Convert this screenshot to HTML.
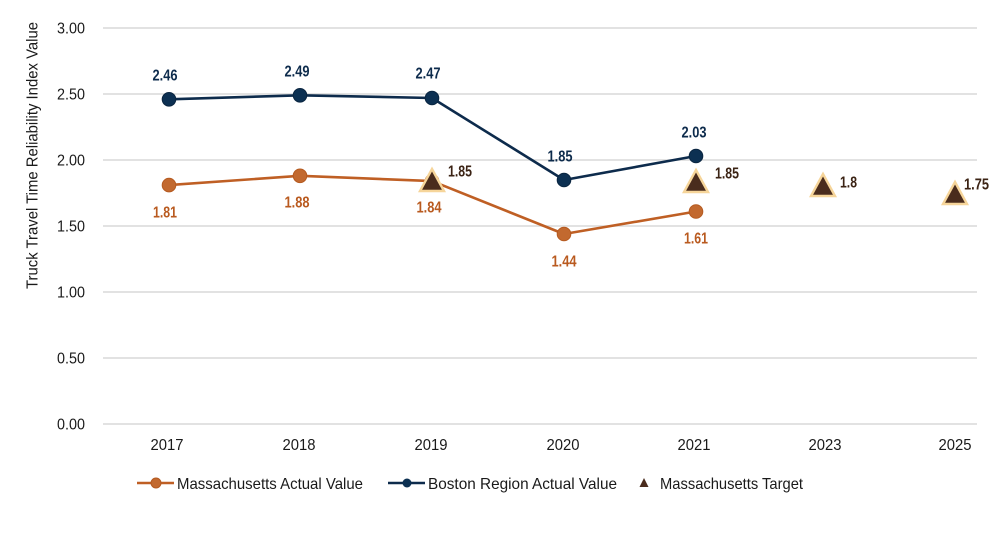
<!DOCTYPE html>
<html>
<head>
<meta charset="utf-8">
<style>
  html, body { margin: 0; padding: 0; background: #ffffff; }
  svg { display: block; }
  text { font-family: "Liberation Sans", sans-serif; }
</style>
</head>
<body>
<svg width="1000" height="535" viewBox="0 0 1000 535" xmlns="http://www.w3.org/2000/svg">
  <rect width="1000" height="535" fill="#ffffff"/>

  <!-- gridlines -->
  <g stroke="#d9d9d9" stroke-width="1.6">
    <line x1="103" y1="28" x2="977" y2="28"/>
    <line x1="103" y1="94" x2="977" y2="94"/>
    <line x1="103" y1="160" x2="977" y2="160"/>
    <line x1="103" y1="226" x2="977" y2="226"/>
    <line x1="103" y1="292" x2="977" y2="292"/>
    <line x1="103" y1="358" x2="977" y2="358"/>
    <line x1="103" y1="424" x2="977" y2="424"/>
  </g>

  <!-- y tick labels -->
  <g font-size="16" fill="#1a1a1a" text-anchor="end">
    <text x="85" y="33.5" textLength="28" lengthAdjust="spacingAndGlyphs">3.00</text>
    <text x="85" y="99.5" textLength="28" lengthAdjust="spacingAndGlyphs">2.50</text>
    <text x="85" y="165.5" textLength="28" lengthAdjust="spacingAndGlyphs">2.00</text>
    <text x="85" y="231.5" textLength="28" lengthAdjust="spacingAndGlyphs">1.50</text>
    <text x="85" y="297.5" textLength="28" lengthAdjust="spacingAndGlyphs">1.00</text>
    <text x="85" y="363.5" textLength="28" lengthAdjust="spacingAndGlyphs">0.50</text>
    <text x="85" y="429.5" textLength="28" lengthAdjust="spacingAndGlyphs">0.00</text>
  </g>

  <!-- y axis title -->
  <text transform="translate(37.5,155.5) rotate(-90)" text-anchor="middle" font-size="16" fill="#1a1a1a" textLength="267" lengthAdjust="spacingAndGlyphs">Truck Travel Time Reliability Index Value</text>

  <!-- x tick labels -->
  <g font-size="16" fill="#1a1a1a" text-anchor="middle">
    <text x="167" y="450" textLength="33" lengthAdjust="spacingAndGlyphs">2017</text>
    <text x="299" y="450" textLength="33" lengthAdjust="spacingAndGlyphs">2018</text>
    <text x="431" y="450" textLength="33" lengthAdjust="spacingAndGlyphs">2019</text>
    <text x="563" y="450" textLength="33" lengthAdjust="spacingAndGlyphs">2020</text>
    <text x="694" y="450" textLength="33" lengthAdjust="spacingAndGlyphs">2021</text>
    <text x="825" y="450" textLength="33" lengthAdjust="spacingAndGlyphs">2023</text>
    <text x="955" y="450" textLength="33" lengthAdjust="spacingAndGlyphs">2025</text>
  </g>

  <!-- Boston series -->
  <polyline points="169,99.3 300,95.3 432,98 564,180 696,156" fill="none" stroke="#0d2b4c" stroke-width="2.6" stroke-linejoin="round"/>
  <g fill="#0c3052" stroke="#0a2540" stroke-width="1">
    <circle cx="169" cy="99.3" r="6.8"/>
    <circle cx="300" cy="95.3" r="6.8"/>
    <circle cx="432" cy="98" r="6.8"/>
    <circle cx="564" cy="180" r="6.8"/>
    <circle cx="696" cy="156" r="6.8"/>
  </g>

  <!-- Massachusetts series -->
  <polyline points="169,185.1 300,175.8 432,181.1 564,234 696,211.5" fill="none" stroke="#bf5f24" stroke-width="2.6" stroke-linejoin="round"/>
  <g fill="#c2692f" stroke="#b55a20" stroke-width="1">
    <circle cx="169" cy="185.1" r="6.8"/>
    <circle cx="300" cy="175.8" r="6.8"/>
    <circle cx="432" cy="181.1" r="6.8"/>
    <circle cx="564" cy="234" r="6.8"/>
    <circle cx="696" cy="211.5" r="6.8"/>
  </g>

  <!-- Targets -->
  <g fill="#4a2c1d" stroke="#f6d59a" stroke-width="2.4" stroke-linejoin="miter">
    <polygon points="432,169 444,191 420,191"/>
    <polygon points="696,170 708,192 684,192"/>
    <polygon points="823,174 835,196 811,196"/>
    <polygon points="955,182 967,204 943,204"/>
  </g>

  <!-- Boston labels -->
  <g font-size="15.5" font-weight="bold" fill="#0d2b4c" text-anchor="middle">
    <text x="165" y="80.5" textLength="25" lengthAdjust="spacingAndGlyphs">2.46</text>
    <text x="297" y="76.5" textLength="25" lengthAdjust="spacingAndGlyphs">2.49</text>
    <text x="428" y="78.5" textLength="25" lengthAdjust="spacingAndGlyphs">2.47</text>
    <text x="560" y="161.5" textLength="25" lengthAdjust="spacingAndGlyphs">1.85</text>
    <text x="694" y="137.5" textLength="25" lengthAdjust="spacingAndGlyphs">2.03</text>
  </g>

  <!-- Massachusetts labels -->
  <g font-size="15.5" font-weight="bold" fill="#b95a1f" text-anchor="middle">
    <text x="165" y="217.5" textLength="24" lengthAdjust="spacingAndGlyphs">1.81</text>
    <text x="297" y="207.5" textLength="25" lengthAdjust="spacingAndGlyphs">1.88</text>
    <text x="429" y="212.5" textLength="25" lengthAdjust="spacingAndGlyphs">1.84</text>
    <text x="564" y="266.5" textLength="25" lengthAdjust="spacingAndGlyphs">1.44</text>
    <text x="696" y="243.5" textLength="24" lengthAdjust="spacingAndGlyphs">1.61</text>
  </g>

  <!-- Target labels -->
  <g font-size="15.5" font-weight="bold" fill="#3b2314">
    <text x="448" y="176.5" textLength="24" lengthAdjust="spacingAndGlyphs">1.85</text>
    <text x="715" y="178.5" textLength="24" lengthAdjust="spacingAndGlyphs">1.85</text>
    <text x="840" y="187.5" textLength="17" lengthAdjust="spacingAndGlyphs">1.8</text>
    <text x="964" y="189.5" textLength="25" lengthAdjust="spacingAndGlyphs">1.75</text>
  </g>

  <!-- Legend -->
  <line x1="137" y1="483" x2="174" y2="483" stroke="#bf5f24" stroke-width="2.6"/>
  <circle cx="156" cy="483" r="5" fill="#c2692f" stroke="#b55a20" stroke-width="1"/>
  <text x="177" y="489" font-size="16" fill="#1a1a1a" textLength="186" lengthAdjust="spacingAndGlyphs">Massachusetts Actual Value</text>

  <line x1="388" y1="483" x2="425" y2="483" stroke="#0d2b4c" stroke-width="2.6"/>
  <circle cx="407" cy="483" r="4.5" fill="#0c3052"/>
  <text x="428" y="489" font-size="16" fill="#1a1a1a" textLength="189" lengthAdjust="spacingAndGlyphs">Boston Region Actual Value</text>

  <polygon points="644,478 648.5,487 639.5,487" fill="#4a2c1d"/>
  <text x="660" y="489" font-size="16" fill="#1a1a1a" textLength="143" lengthAdjust="spacingAndGlyphs">Massachusetts Target</text>
</svg>
</body>
</html>
